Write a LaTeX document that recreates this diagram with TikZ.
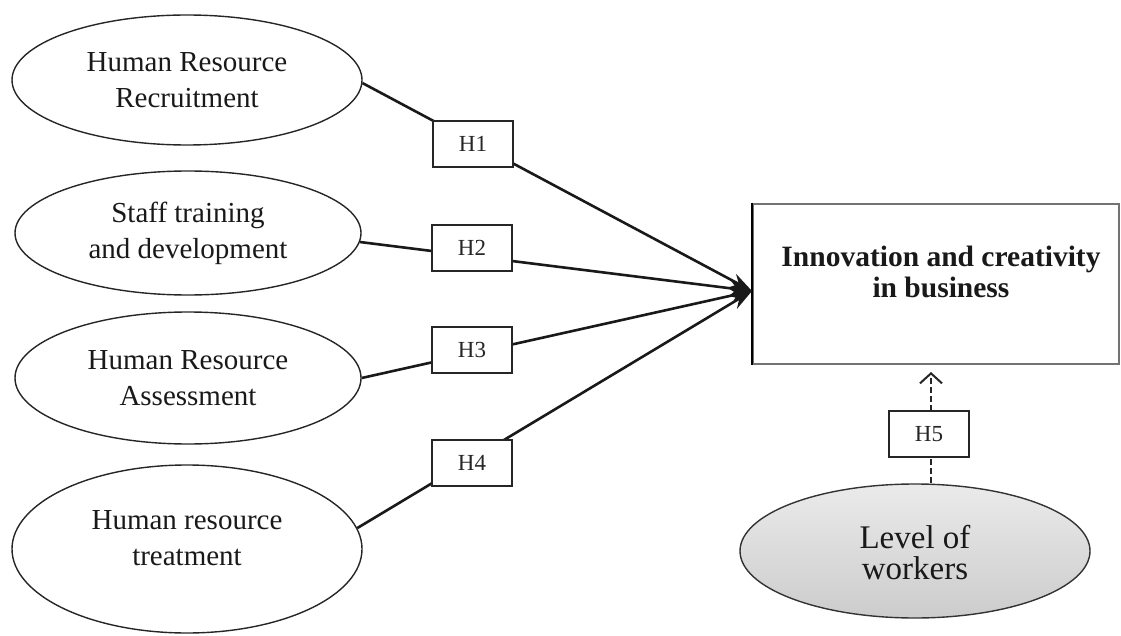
\documentclass[tikz,border=0pt]{standalone}
\usepackage{fontspec}
\setmainfont{Liberation Serif}
\usetikzlibrary{shapes.geometric,arrows.meta}
\begin{document}
\begin{tikzpicture}[x=1pt,y=-1pt,
  construct/.style={ellipse,draw=black!85,line width=1.4pt,inner sep=0pt,
    text=black!90,align=center,font=\fontsize{29}{36}\selectfont},
  hyp/.style={rectangle,draw=black!85,line width=1.4pt,fill=white,
    minimum width=80pt,minimum height=46pt,inner sep=0pt,
    text=black!85,font=\fontsize{23}{26}\selectfont},
  conn/.style={line width=2.6pt,black!90,
    -{Stealth[length=22pt,width=15pt]}},
  modline/.style={line width=2.6pt,black!85,dash pattern=on 6pt off 3pt,
    -{Straight Barb[length=10pt,width=22pt,line width=2pt]}}]
\useasboundingbox (0,0) rectangle (1121,636);

% predictors
\node[construct,minimum width=350pt,minimum height=130pt] (e1) at (187,80)
  {Human Resource\\Recruitment};
\node[construct,minimum width=346pt,minimum height=124pt] (e2) at (188,233)
  {Staff training\\and development};
\node[construct,minimum width=346pt,minimum height=132pt] (e3) at (188,378)
  {Human Resource\\Assessment};
\node[construct,minimum width=350pt,minimum height=168pt] (e4) at (187,549) {};
\node[text=black!90,align=center,font=\fontsize{29}{36}\selectfont] (e4t)
  at (187,538) {Human resource\\treatment};

% outcome
\node[rectangle,draw=black!55,line width=2.6pt,minimum width=366pt,
  minimum height=160pt,inner sep=0pt] (out) at (936,284) {};
\draw[line width=2pt,black] (out.north west) -- (out.south west);
\node[align=center,font=\bfseries\fontsize{29.5}{31}\selectfont,text=black!90]
  (outt) at (941,272) {Innovation and creativity\\in business};

% moderator
\node[ellipse,draw=black!80,line width=1.4pt,top color=black!8,
  bottom color=black!20,minimum width=350pt,minimum height=134pt,
  inner sep=0pt] (lw) at (915,551) {};
\node[text=black!90,align=center,font=\fontsize{33}{31}\selectfont] (lwt)
  at (915,553) {Level of\\workers};

% paths
\coordinate (tgt) at (752,291);
\draw[conn] (e1.-1.3) -- (tgt);
\draw[conn] (e2.-3) -- (tgt);
\draw[conn] (e3.0) -- (tgt);
\draw[conn] (e4.7.5) -- (tgt);

\node[hyp] (h1) at (473,144) {H1};
\node[hyp] (h2) at (472,248) {H2};
\node[hyp] (h3) at (472,350) {H3};
\node[hyp] (h4) at (472,463) {H4};

\coordinate (h5tip) at (931,372);
\draw[modline] (lw.north -| h5tip) -- (h5tip);
\node[hyp] (h5) at (929,434) {H5};
\end{tikzpicture}
\end{document}
